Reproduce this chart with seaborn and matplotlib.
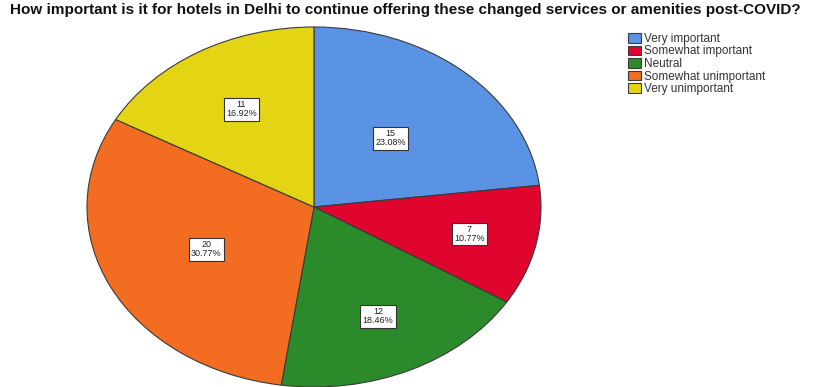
import matplotlib
matplotlib.use("Agg")
import matplotlib.pyplot as plt
import numpy as np
import seaborn as sns

sns.set_style("white")
plt.rcParams["font.family"] = ["Liberation Sans", "DejaVu Sans"]

categories = ["Very important", "Somewhat important", "Neutral",
              "Somewhat unimportant", "Very unimportant"]
counts = [15, 7, 12, 20, 11]
colors = ["#5a93e3", "#e0052e", "#2b8b2b", "#f26d22", "#e3d414"]
title = ("How important is it for hotels in Delhi to continue offering "
         "these changed services or amenities post-COVID?")

total = sum(counts)

fig = plt.figure(figsize=(8.16, 3.87), dpi=100)
# axes box spans the ellipse bounds so the pie is stretched horizontally
ax = fig.add_axes([87 / 816, 0.0, 454 / 816, 360 / 387])

wedges, texts = ax.pie(
    counts,
    colors=colors,
    startangle=90,
    counterclock=False,
    radius=1.0,
    wedgeprops=dict(edgecolor="#3a3a3a", linewidth=0.8),
)
for w in wedges:
    w.set_clip_on(False)

ax.set_aspect("auto")
ax.set_xlim(-1, 1)
ax.set_ylim(-1, 1)
ax.axis("off")

# radial placement of each value box, as a fraction of the radius
label_r = [0.51, 0.70, 0.67, 0.53, 0.63]
for c, w, r in zip(counts, wedges, label_r):
    mid = np.deg2rad((w.theta1 + w.theta2) / 2)
    ax.text(r * np.cos(mid), r * np.sin(mid),
            f"{c}\n{c / total * 100:.2f}%",
            ha="center", va="center", fontsize=6.5, color="#222222",
            linespacing=1.0,
            bbox=dict(boxstyle="square,pad=0.25", facecolor="white",
                      edgecolor="#333333", linewidth=0.8))

fig.suptitle(title, x=0.497, y=0.992, fontsize=11, fontweight="bold",
             color="#111111")

leg = fig.legend(wedges, categories, loc="upper left",
                 bbox_to_anchor=(622 / 816, 1 - 27 / 387),
                 frameon=False, fontsize=8.5, handlelength=1.1,
                 handleheight=0.85, handletextpad=0.3, labelspacing=0.05,
                 borderpad=0.0)
for t in leg.get_texts():
    t.set_color("#333333")

fig.savefig("out.png", dpi=100)
